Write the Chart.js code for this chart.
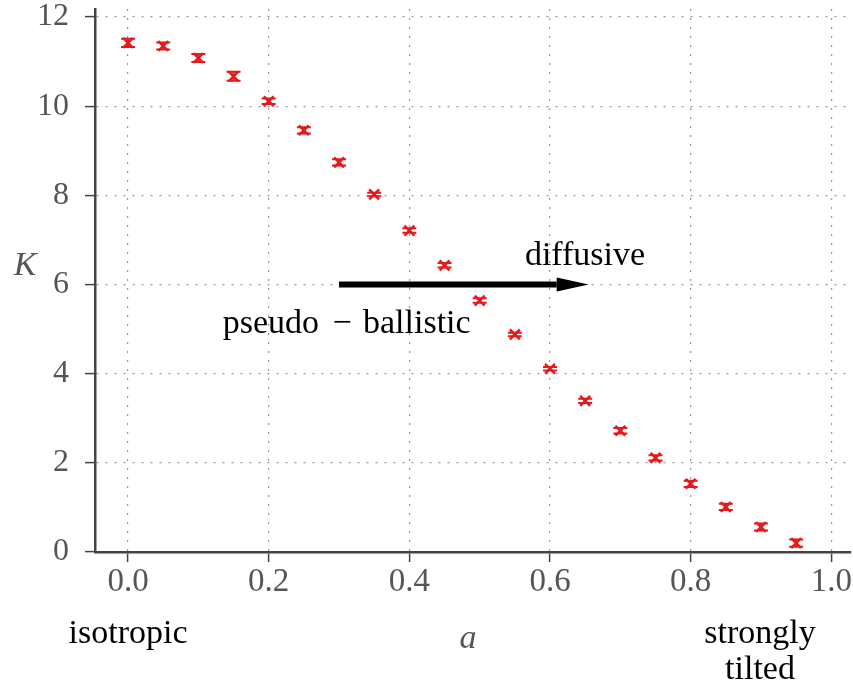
<!DOCTYPE html>
<html>
<head>
<meta charset="utf-8">
<script src="https://cdn.jsdelivr.net/npm/chart.js@4/dist/chart.umd.min.js"></script>
<style>
  body { margin: 0; background: #fff; }
  #contenedor { width: 853px; height: 688px; }
</style>
</head>
<body>
<div id="contenedor"><canvas id="graficoK" width="853" height="688"></canvas></div>
<script>
// ===================================== Datos ==================
var valoresA = [0.0, 0.05, 0.1, 0.15, 0.2, 0.25, 0.3, 0.35, 0.4, 0.45,
                0.5, 0.55, 0.6, 0.65, 0.7, 0.75, 0.8, 0.85, 0.9, 0.95];
var valoresK = [11.42, 11.35, 11.08, 10.67, 10.11, 9.46, 8.74, 8.02, 7.21, 6.43,
                5.64, 4.88, 4.11, 3.39, 2.72, 2.11, 1.53, 1.01, 0.56, 0.2];
var erroresK = [0.09, 0.08, 0.09, 0.1, 0.06, 0.07, 0.07, 0.04, 0.05, 0.05,
                0.05, 0.04, 0.04, 0.05, 0.06, 0.06, 0.07, 0.07, 0.08, 0.08];
var ticksX = [0.0, 0.2, 0.4, 0.6, 0.8, 1.0];
var ticksY = [0, 2, 4, 6, 8, 10, 12];

// flecha pseudo-balístico -> difusivo (en unidades de datos)
var flechaDesde = [0.3, 6];
var flechaHasta = [0.655, 6];

var rojo = "#e41a1c";
var fuente = "'Liberation Serif', 'DejaVu Serif', serif";

// ===================================== Barras de error ==================
var pluginErrores = {
  id: "barrasError",
  beforeDatasetsDraw(chart) {
    const ctx = chart.ctx;
    const xs = chart.scales.x, ys = chart.scales.y;
    ctx.save();
    ctx.strokeStyle = rojo;
    ctx.lineWidth = 2;
    valoresA.forEach((a, i) => {
      const px = xs.getPixelForValue(a);
      const y1 = ys.getPixelForValue(valoresK[i] + erroresK[i]);
      const y2 = ys.getPixelForValue(valoresK[i] - erroresK[i]);
      ctx.beginPath();
      ctx.moveTo(px, y1); ctx.lineTo(px, y2);
      ctx.moveTo(px - 7, y1); ctx.lineTo(px + 7, y1);
      ctx.moveTo(px - 7, y2); ctx.lineTo(px + 7, y2);
      ctx.stroke();
    });
    ctx.restore();
  }
};

// ===================================== Flecha y textos ==================
var pluginAnotaciones = {
  id: "anotaciones",
  afterDatasetsDraw(chart) {
    const ctx = chart.ctx;
    const xs = chart.scales.x, ys = chart.scales.y;
    ctx.save();

    const x0 = xs.getPixelForValue(flechaDesde[0]);
    const y0 = ys.getPixelForValue(flechaDesde[1]);
    const x1 = xs.getPixelForValue(flechaHasta[0]);
    const largoPunta = 32;
    ctx.fillStyle = "#000";
    ctx.fillRect(x0, y0 - 3, x1 - largoPunta - x0, 6);
    ctx.beginPath();
    ctx.moveTo(x1 - largoPunta, y0 - 7);
    ctx.lineTo(x1, y0);
    ctx.lineTo(x1 - largoPunta, y0 + 7);
    ctx.closePath();
    ctx.fill();

    ctx.font = "34px " + fuente;
    ctx.textBaseline = "alphabetic";
    ctx.textAlign = "center";
    ctx.fillText("diffusive", 585, 265);
    ctx.fillText("isotropic", 128, 643);
    ctx.fillText("strongly", 760, 643);
    ctx.fillText("tilted", 760, 679);

    // "pseudo − ballistic" con el espaciado amplio del signo menos
    ctx.textAlign = "right";
    ctx.fillText("pseudo", 319, 333);
    ctx.textAlign = "center";
    ctx.fillText("\u2212", 342, 333);
    ctx.textAlign = "left";
    ctx.fillText("ballistic", 363, 333);

    ctx.textAlign = "center";
    ctx.fillStyle = "#555";
    ctx.font = "italic 34px " + fuente;
    ctx.fillText("a", 468, 648);
    ctx.fillText("K", 25, 275);
    ctx.restore();
  }
};

// ===================================== Gráfico ==================
var estiloRejilla = {
  color: "#999",
  lineWidth: 1.2,
  tickLength: 10,
  tickColor: "#444",
  tickWidth: 1.5,
  tickBorderDash: []
};
var estiloBorde = { color: "#444", width: 2.5, dash: [2, 7] };

new Chart(document.getElementById("graficoK"), {
  type: "scatter",
  data: {
    datasets: [{
      data: valoresA.map((a, i) => ({ x: a, y: valoresK[i] })),
      pointStyle: "crossRot",
      pointRadius: 7,
      pointBorderWidth: 2.5,
      borderColor: rojo,
      backgroundColor: rojo
    }]
  },
  options: {
    responsive: false,
    animation: false,
    layout: { autoPadding: false, padding: { left: 0, top: 9, right: 2, bottom: 0 } },
    plugins: { legend: { display: false }, tooltip: { enabled: false } },
    scales: {
      x: {
        type: "linear",
        min: -0.047,
        max: 1.028,
        afterBuildTicks: axis => { axis.ticks = ticksX.map(v => ({ value: v })); },
        afterFit: axis => { axis.height = 136; axis.paddingLeft = 0; axis.paddingRight = 0; },
        ticks: {
          padding: 1,
          color: "#555",
          font: { family: fuente, size: 33 },
          maxRotation: 0,
          callback: v => v.toFixed(1)
        },
        grid: estiloRejilla,
        border: estiloBorde
      },
      y: {
        type: "linear",
        min: 0,
        max: 12.18,
        afterBuildTicks: axis => { axis.ticks = ticksY.map(v => ({ value: v })); },
        afterFit: axis => { axis.width = 95; axis.paddingTop = 0; axis.paddingBottom = 0; },
        ticks: {
          padding: 16,
          color: "#555",
          font: { family: fuente, size: 32 }
        },
        grid: estiloRejilla,
        border: estiloBorde
      }
    }
  },
  plugins: [pluginErrores, pluginAnotaciones]
});
</script>
</body>
</html>
